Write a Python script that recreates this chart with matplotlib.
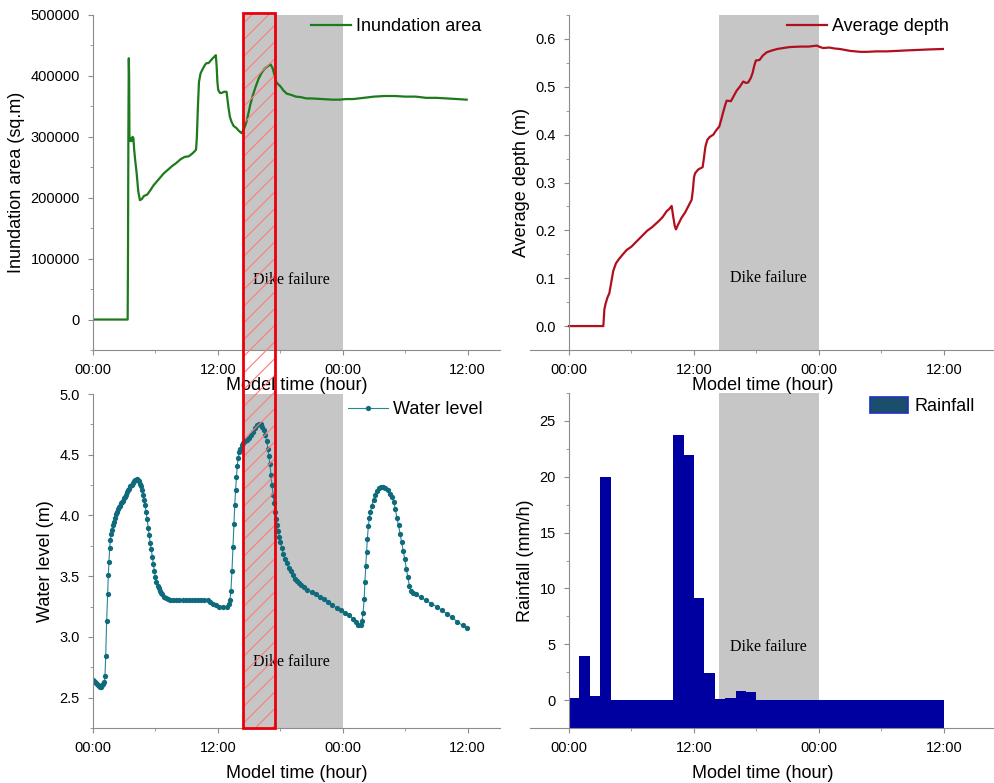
import matplotlib
matplotlib.use("Agg")
import matplotlib.pyplot as plt
from matplotlib.patches import Patch, Rectangle
from matplotlib.ticker import MultipleLocator

plt.rcParams["font.family"] = ["Liberation Sans", "DejaVu Sans"]
plt.rcParams["hatch.linewidth"] = 0.8

# model time in hours from 00:00 of day 1
area_t = [0, 3.33, 3.36, 3.4, 3.44, 3.47, 3.5, 3.55, 3.62, 3.7, 3.8, 3.88, 3.95, 4.05, 4.19,
          4.35, 4.51, 4.7, 4.9, 5.2, 5.5, 5.8, 6.1, 6.4, 6.8, 7.2, 7.6, 8.0, 8.4, 8.8, 9.2,
          9.5, 9.75, 9.9, 9.98, 10.08, 10.18, 10.33, 10.5, 10.75, 10.9, 11.1, 11.3, 11.5,
          11.7, 11.8, 11.88, 11.95, 12.03, 12.2, 12.35, 12.6, 12.83, 13.0, 13.15, 13.3, 13.5,
          13.8, 14.0, 14.27, 14.5, 14.7, 14.9, 15.1, 15.35, 15.6, 15.9, 16.2, 16.5, 16.8,
          17.05, 17.25, 17.45, 17.6, 17.8, 18.0, 18.3, 18.6, 19.0, 19.5, 20.0, 20.5, 21.0,
          22.0, 23.0, 23.7, 24.3, 25.0, 26.0, 27.0, 28.0, 29.0, 30.0, 31.0, 32.0, 33.0,
          34.0, 35.0, 35.9]
area_v = [0, 0, 100000, 310000, 429000, 400000, 300000, 293000, 298000, 293000, 300000,
          298000, 280000, 262000, 241000, 210000, 196000, 198000, 203000, 205000, 212000,
          220000, 226000, 232000, 240000, 246000, 252000, 257000, 263000, 267000, 268000,
          272000, 276000, 279000, 300000, 350000, 390000, 404000, 410000, 418000, 421000,
          421000, 425000, 429000, 432000, 434000, 415000, 390000, 377000, 372000, 372000,
          374000, 374000, 350000, 333000, 325000, 318000, 314000, 310000, 306000, 313000,
          322000, 336000, 352000, 368000, 381000, 395000, 405000, 412000, 416000, 419000,
          413000, 400000, 390000, 386000, 383000, 376000, 371000, 369000, 366000, 365000,
          363000, 363000, 362000, 361000, 361000, 362000, 362000, 364000, 366000, 367000,
          367000, 366000, 366000, 364000, 364000, 363000, 362000, 361000]

depth_t = [0, 3.3, 3.4, 3.52, 3.7, 3.87, 4.05, 4.25, 4.51, 4.8, 5.1, 5.54, 6.0, 6.5, 7.0,
           7.5, 8.0, 8.5, 8.74, 9.0, 9.38, 9.6, 9.86, 10.0, 10.15, 10.27, 10.5, 10.8, 11.14,
           11.45, 11.78, 11.9, 12.0, 12.1, 12.4, 12.83, 12.95, 13.1, 13.28, 13.5, 13.86,
           14.1, 14.43, 14.6, 14.82, 15.0, 15.14, 15.55, 15.8, 16.1, 16.4, 16.73, 17.0, 17.2,
           17.45, 17.63, 17.8, 17.95, 18.3, 18.6, 18.98, 19.5, 20.0, 20.57, 21.2, 22.2, 23.0,
           23.8, 24.1, 24.4, 25.0, 25.5, 26.0, 27.0, 28.0, 28.6, 29.5, 30.5, 31.5, 32.4,
           33.5, 34.5, 35.9]
depth_v = [0, 0, 0.035, 0.047, 0.06, 0.068, 0.09, 0.115, 0.131, 0.14, 0.148, 0.159, 0.166,
           0.177, 0.188, 0.199, 0.207, 0.217, 0.222, 0.228, 0.24, 0.244, 0.251, 0.23, 0.21,
           0.202, 0.213, 0.226, 0.237, 0.25, 0.264, 0.285, 0.31, 0.319, 0.327, 0.332, 0.35,
           0.375, 0.389, 0.395, 0.40, 0.408, 0.417, 0.43, 0.448, 0.462, 0.471, 0.47, 0.48,
           0.492, 0.50, 0.511, 0.508, 0.509, 0.518, 0.529, 0.545, 0.555, 0.556, 0.565, 0.572,
           0.576, 0.579, 0.581, 0.583, 0.584, 0.584, 0.586, 0.583, 0.581, 0.582, 0.58, 0.579,
           0.575, 0.573, 0.573, 0.574, 0.574, 0.575, 0.576, 0.577, 0.578, 0.579]

level_t = [0.0, 0.1, 0.2, 0.3, 0.4, 0.5, 0.6, 0.7, 0.8, 0.9, 1.0, 1.1, 1.15, 1.22, 1.31, 1.41,
           1.47, 1.54, 1.6, 1.67, 1.74, 1.8, 1.9, 2.0, 2.1, 2.2, 2.3, 2.4, 2.5, 2.6, 2.7, 2.8,
           2.9, 3.0, 3.1, 3.2, 3.3, 3.4, 3.5, 3.6, 3.7, 3.8, 3.9, 4.0, 4.1, 4.2, 4.3, 4.4, 4.5,
           4.6, 4.7, 4.8, 4.9, 5.0, 5.1, 5.2, 5.3, 5.4, 5.5, 5.6, 5.7, 5.8, 5.9, 6.0, 6.1, 6.2,
           6.3, 6.4, 6.5, 6.6, 6.8, 7.0, 7.2, 7.4, 7.7, 8.0, 8.3, 8.6, 8.9, 9.2, 9.5, 9.8,
           10.1, 10.4, 10.7, 11.0, 11.2, 11.5, 11.8, 12.1, 12.5, 12.9, 13.05, 13.15, 13.25,
           13.35, 13.45, 13.55, 13.62, 13.7, 13.78, 13.86, 13.95, 14.05, 14.15, 14.3, 14.45,
           14.6, 14.8, 15.0, 15.2, 15.4, 15.6, 15.8, 15.95, 16.1, 16.25, 16.4, 16.55, 16.7,
           16.8, 16.9, 17.0, 17.1, 17.2, 17.3, 17.4, 17.5, 17.6, 17.7, 17.8, 17.9, 18.0,
           18.15, 18.3, 18.45, 18.6, 18.8, 19.0, 19.2, 19.4, 19.6, 19.8, 20.0, 20.3, 20.6,
           21.0, 21.4, 21.8, 22.2, 22.6, 23.0, 23.4, 23.8, 24.2, 24.6, 25.0, 25.3, 25.5, 25.7,
           25.85, 25.95, 26.05, 26.12, 26.2, 26.28, 26.36, 26.45, 26.55, 26.65, 26.8, 26.95,
           27.1, 27.3, 27.5, 27.7, 27.9, 28.1, 28.3, 28.5, 28.7, 28.9, 29.05, 29.2, 29.35,
           29.5, 29.65, 29.8, 29.95, 30.1, 30.25, 30.4, 30.55, 30.75, 31.0, 31.5, 32.0, 32.5,
           33.0, 33.5, 34.0, 34.5, 35.0, 35.5, 35.9]
level_v = [2.648, 2.64, 2.63, 2.62, 2.61, 2.60, 2.595, 2.59, 2.59, 2.60, 2.61, 2.625, 2.675,
           2.84, 3.13, 3.35, 3.51, 3.62, 3.73, 3.80, 3.85, 3.88, 3.92, 3.95, 3.98, 4.01, 4.03,
           4.05, 4.07, 4.08, 4.10, 4.11, 4.12, 4.14, 4.15, 4.17, 4.19, 4.21, 4.22, 4.24, 4.25,
           4.27, 4.28, 4.29, 4.295, 4.30, 4.29, 4.28, 4.26, 4.24, 4.21, 4.17, 4.13, 4.09, 4.03,
           3.97, 3.90, 3.84, 3.77, 3.72, 3.66, 3.60, 3.54, 3.49, 3.45, 3.42, 3.40, 3.38, 3.36,
           3.35, 3.33, 3.32, 3.31, 3.305, 3.30, 3.30, 3.30, 3.30, 3.30, 3.30, 3.30, 3.30,
           3.30, 3.30, 3.30, 3.30, 3.29, 3.275, 3.26, 3.25, 3.25, 3.25, 3.27, 3.30, 3.38,
           3.54, 3.74, 3.93, 4.09, 4.21, 4.32, 4.41, 4.47, 4.52, 4.55, 4.58, 4.60, 4.61,
           4.625, 4.64, 4.66, 4.69, 4.72, 4.745, 4.755, 4.75, 4.73, 4.70, 4.66, 4.61, 4.55,
           4.49, 4.42, 4.33, 4.25, 4.17, 4.10, 4.03, 3.97, 3.92, 3.87, 3.82, 3.78, 3.73, 3.68,
           3.64, 3.61, 3.57, 3.54, 3.51, 3.48, 3.46, 3.44, 3.43, 3.41, 3.39, 3.37, 3.35, 3.33,
           3.31, 3.29, 3.26, 3.24, 3.22, 3.20, 3.18, 3.15, 3.12, 3.10, 3.10, 3.13, 3.20, 3.31,
           3.45, 3.58, 3.70, 3.81, 3.91, 3.98, 4.03, 4.08, 4.13, 4.17, 4.20, 4.225, 4.235,
           4.235, 4.225, 4.21, 4.18, 4.15, 4.11, 4.05, 3.98, 3.92, 3.85, 3.78, 3.71, 3.64,
           3.56, 3.49, 3.42, 3.38, 3.36, 3.35, 3.325, 3.30, 3.275, 3.25, 3.22, 3.19, 3.16,
           3.125, 3.095, 3.07]

rain_hour = list(range(36))
rain_mm = [0.15, 3.95, 0.35, 19.95, 0, 0, 0, 0, 0, 0, 23.75, 21.95, 9.15, 2.45, 0.12, 0.2,
           0.85, 0.7] + [0] * 18

time_ticks = [0, 12, 24, 36]
time_labels = ["00:00", "12:00", "00:00", "12:00"]
failure_start, failure_end = 14.4, 24.0
breach_start, breach_end = 14.4, 17.5

W, H = 995, 783
fig = plt.figure(figsize=(W / 100, H / 100), dpi=100)


def px_rect(left, top, right, bottom):
    return [left / W, 1 - bottom / H, (right - left) / W, (bottom - top) / H]


def style(ax, ylabel, xlabelpad, spine_at_zero=False):
    for side in ("top", "right"):
        ax.spines[side].set_visible(False)
    for side in ("left", "bottom"):
        ax.spines[side].set_color("#8c8c8c")
    if spine_at_zero:
        ax.spines["left"].set_position(("data", 0))
    ax.set_xticks(time_ticks)
    ax.set_xticklabels(time_labels)
    ax.xaxis.set_minor_locator(MultipleLocator(6))
    ax.tick_params(which="both", direction="out", color="#8c8c8c", labelsize=10.5, pad=6)
    ax.tick_params(which="major", length=3.5)
    ax.tick_params(which="minor", length=2.5)
    ax.set_xlabel("Model time (hour)", fontsize=13, labelpad=xlabelpad)
    ax.set_ylabel(ylabel, fontsize=13, labelpad=4)
    ax.axvspan(failure_start, failure_end, color="#c6c6c6", lw=0, zorder=0)


def dike_text(ax, y):
    ax.text(19.1, y, "Dike failure", family="Liberation Serif", fontsize=11.5,
            ha="center", va="center")


def legend_at(ax, x, y, **kw):
    ax.legend(loc="upper left", bbox_to_anchor=(x / W, 1 - y / H), bbox_transform=fig.transFigure,
              frameon=False, fontsize=13, handlelength=2.2, handletextpad=0.3,
              borderpad=0, borderaxespad=0, **kw)


# inundation area
ax1 = fig.add_axes(px_rect(93, 15, 500, 350), zorder=2)
ax1.patch.set_alpha(0)
ax1.plot(area_t, area_v, color="#1d7a1d", lw=1.6, label="Inundation area")
ax1.set_xlim(0, 39.1)
ax1.set_ylim(-50000, 500000)
ax1.yaxis.set_major_locator(MultipleLocator(100000))
ax1.yaxis.set_minor_locator(MultipleLocator(50000))
style(ax1, "Inundation area (sq.m)", 0)
dike_text(ax1, 65000)
legend_at(ax1, 311, 18)

# average depth
ax2 = fig.add_axes(px_rect(530, 15, 995, 350), zorder=2)
ax2.patch.set_alpha(0)
ax2.plot(depth_t, depth_v, color="#b0101e", lw=1.6, label="Average depth")
ax2.set_xlim(-3.74, 40.9)
ax2.set_ylim(-0.05, 0.65)
ax2.yaxis.set_major_locator(MultipleLocator(0.1))
ax2.yaxis.set_minor_locator(MultipleLocator(0.05))
ax2.yaxis.set_major_formatter("{x:.1f}")
style(ax2, "Average depth (m)", 0, spine_at_zero=True)
dike_text(ax2, 0.10)
legend_at(ax2, 787, 18)

# water level
ax3 = fig.add_axes(px_rect(93, 394, 500, 728), zorder=1)
ax3.plot(level_t, level_v, color="#2a8595", lw=0.8, marker="o", ms=3.8,
         markerfacecolor="#0f6b7b", markeredgewidth=0, label="Water level")
ax3.set_xlim(0, 39.1)
ax3.set_ylim(2.25, 5.0)
ax3.yaxis.set_major_locator(MultipleLocator(0.5))
ax3.yaxis.set_minor_locator(MultipleLocator(0.25))
ax3.yaxis.set_major_formatter("{x:.1f}")
style(ax3, "Water level (m)", 7)
dike_text(ax3, 2.79)
legend_at(ax3, 348, 401, numpoints=1)

# rainfall
ax4 = fig.add_axes(px_rect(530, 393, 995, 728), zorder=1)
rain_floor = -2.5
ax4.bar(rain_hour, [v - rain_floor for v in rain_mm], bottom=rain_floor, width=1,
        align="edge", color="#0000a0", lw=0)
ax4.set_xlim(-3.74, 40.9)
ax4.set_ylim(rain_floor, 27.5)
ax4.yaxis.set_major_locator(MultipleLocator(5))
ax4.yaxis.set_minor_locator(MultipleLocator(2.5))
style(ax4, "Rainfall (mm/h)", 7, spine_at_zero=True)
dike_text(ax4, 4.75)
ax4.legend(handles=[Patch(facecolor="#1a4f6b", edgecolor="#1f2fc0", lw=1.2, label="Rainfall")],
           loc="upper left", bbox_to_anchor=(870 / W, 1 - 397 / H), bbox_transform=fig.transFigure,
           frameon=False, fontsize=13, handlelength=2.1, handleheight=1.0, handletextpad=0.35,
           borderpad=0, borderaxespad=0)

# breach window spanning the two left panels
to_fig = fig.transFigure.inverted()
bx0 = to_fig.transform(ax1.transData.transform((breach_start, 0)))[0]
bx1 = to_fig.transform(ax1.transData.transform((breach_end, 0)))[0]
by1 = ax1.get_position().y1 + 2 / H
by0 = ax3.get_position().y0
fig.add_artist(Rectangle((bx0, by0), bx1 - bx0, by1 - by0, transform=fig.transFigure,
                         facecolor="none", edgecolor="#ff7a7a", hatch="//", lw=0, zorder=5))
fig.add_artist(Rectangle((bx0, by0), bx1 - bx0, by1 - by0, transform=fig.transFigure,
                         facecolor="none", edgecolor="#e8000b", lw=2, zorder=6))

fig.savefig("out.png", dpi=100)
